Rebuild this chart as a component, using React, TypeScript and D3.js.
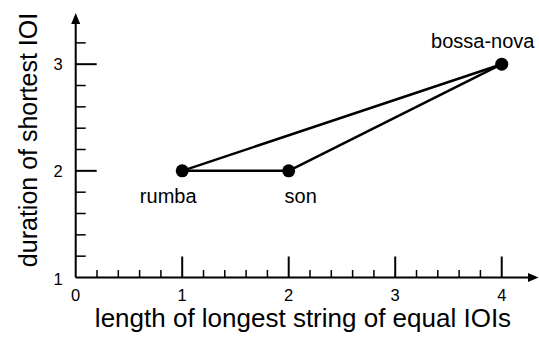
import React from "react";
import * as d3 from "d3";

const rhythms = ["rumba", "son", "bossa-nova"];
const longestString = [1, 2, 4];
const shortestIOI = [2, 2, 3];
const edges: [number, number][] = [[0, 1], [1, 2], [0, 2]];
const xTickLabels = [0, 1, 2, 3, 4];
const yTickLabels = [1, 2, 3];
const labelOffsets: [number, number][] = [[-14, 32], [12, 32], [-19, -16]];

const W = 539, H = 343;
const FONT = "'Liberation Sans', Arial, Helvetica, sans-serif";

export default function App() {
  const x = d3.scaleLinear().domain([0, 4.35]).range([75.7, 539]);
  const y = d3.scaleLinear().domain([1, 3.48]).range([277.5, 13]);
  const xMinor = d3.range(0, 21).map((i) => i * 0.2).filter((v) => Math.abs(v - Math.round(v)) > 1e-6);
  const yMinor = d3.range(0, 13).map((i) => 1 + i * 0.2).filter((v) => Math.abs(v - Math.round(v)) > 1e-6 && v < 3.3);
  const x0 = x(0), y0 = y(1);
  const line = d3.line<[number, number]>().x((d) => x(d[0])).y((d) => y(d[1]));
  return (
    <svg width={W} height={H} style={{ position: "absolute", left: 0, top: 0, background: "#fff" }} fontFamily={FONT}>
      <rect width={W} height={H} fill="#fff" />
      {/* axes */}
      <line x1={x0} x2={W - 8} y1={y0} y2={y0} stroke="#000" strokeWidth={2} />
      <line x1={x0} x2={x0} y1={y0} y2={y(3.48) + 8} stroke="#000" strokeWidth={2} />
      <path d={`M${W - 0.5},${y0} L${W - 11},${y0 - 4.5} L${W - 11},${y0 + 4.5} Z`} fill="#000" />
      <path d={`M${x0},${y(3.48)} L${x0 - 4.5},${y(3.48) + 11} L${x0 + 4.5},${y(3.48) + 11} Z`} fill="#000" />
      {/* x ticks */}
      {xTickLabels.filter((v) => v > 0).map((v) => (
        <line key={"xm" + v} x1={x(v)} x2={x(v)} y1={y0} y2={y0 - 21} stroke="#000" strokeWidth={2} />
      ))}
      {xMinor.map((v) => (
        <line key={"xn" + v} x1={x(v)} x2={x(v)} y1={y0} y2={y0 - 7.5} stroke="#000" strokeWidth={1.5} />
      ))}
      {xTickLabels.map((v) => (
        <text key={"xl" + v} x={x(v)} y={300.5} fontSize={16.5} textAnchor="middle">{v}</text>
      ))}
      {/* y ticks */}
      {yTickLabels.filter((v) => v > 1).map((v) => (
        <line key={"ym" + v} x1={x0} x2={x0 + 21} y1={y(v)} y2={y(v)} stroke="#000" strokeWidth={2} />
      ))}
      {yMinor.map((v) => (
        <line key={"yn" + v} x1={x0} x2={x0 + 10} y1={y(v)} y2={y(v)} stroke="#000" strokeWidth={1.5} />
      ))}
      {yTickLabels.map((v) => (
        <text key={"yl" + v} x={58} y={y(v) + (v === 1 ? 7.5 : 6)} fontSize={16.5} textAnchor="middle">{v}</text>
      ))}
      {/* axis titles */}
      <text x={303} y={327} fontSize={26} textAnchor="middle">length of longest string of equal IOIs</text>
      <text transform={`translate(37,140) rotate(-90)`} fontSize={25} textAnchor="middle">duration of shortest IOI</text>
      {/* edges */}
      {edges.map(([a, b], i) => (
        <path key={"e" + i} d={line([[longestString[a], shortestIOI[a]], [longestString[b], shortestIOI[b]]]) || ""} stroke="#000" strokeWidth={2.5} fill="none" />
      ))}
      {/* points */}
      {rhythms.map((r, i) => (
        <g key={r}>
          <circle cx={x(longestString[i])} cy={y(shortestIOI[i])} r={6.5} fill="#000" />
          <text x={x(longestString[i]) + labelOffsets[i][0]} y={y(shortestIOI[i]) + labelOffsets[i][1]} fontSize={20} textAnchor="middle">{r}</text>
        </g>
      ))}
    </svg>
  );
}
